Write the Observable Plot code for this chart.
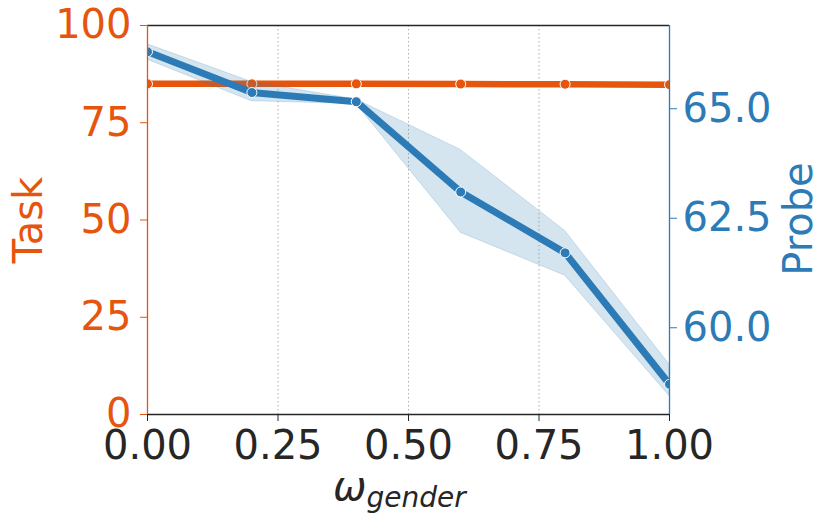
<!DOCTYPE html>
<html>
<head>
<meta charset="utf-8">
<script src="https://cdn.jsdelivr.net/npm/d3@7"></script>
<script src="https://cdn.jsdelivr.net/npm/@observablehq/plot@0.6"></script>
<style>
  html, body { margin: 0; padding: 0; background: #fff; }
  #chart { width: 830px; height: 524px; }
</style>
</head>
<body>
<div id="chart"></div>
<script>
// ---- data ----
const omega = [0.0, 0.2, 0.4, 0.6, 0.8, 1.0];
const taskValues = [85.0, 85.0, 85.0, 84.95, 84.9, 84.8];
const probeValues = [66.30, 65.37, 65.16, 63.10, 61.71, 58.71];
const probeLow = [66.12, 65.17, 65.11, 62.17, 61.19, 58.44];
const probeHigh = [66.47, 65.61, 65.21, 64.06, 62.21, 59.16];
const xTicks = [0, 0.25, 0.5, 0.75, 1.0];
const taskTicks = [0, 25, 50, 75, 100];
const probeTicks = [60.0, 62.5, 65.0];

const ORANGE = "#e6550d";
const BLUE = "#2c7bb6";
const DARK = "#262626";

// right axis domain mapped onto the left (task) scale
const P0 = 58.02, P1 = 66.9;
const pv = p => (p - P0) / (P1 - P0) * 100;
const pinv = v => v / 100 * (P1 - P0) + P0;

const taskData = omega.map((x, i) => ({x, y: taskValues[i]}));
const probeData = omega.map((x, i) => ({x, y: pv(probeValues[i]), lo: pv(probeLow[i]), hi: pv(probeHigh[i])}));

const chart = Plot.plot({
  width: 830,
  height: 524,
  marginTop: 25,
  marginBottom: 110,
  marginLeft: 147,
  marginRight: 161,
  style: {fontFamily: "DejaVu Sans", fontSize: "40px", background: "#fff"},
  x: {domain: [0, 1]},
  y: {domain: [0, 100]},
  marks: [
    Plot.ruleX([0.25, 0.5, 0.75], {stroke: "#b0b0b0", strokeWidth: 1, strokeDasharray: "1.5,2.5"}),
    Plot.lineY(taskData, {x: "x", y: "y", stroke: ORANGE, strokeWidth: 6.5, clip: true}),
    Plot.dot(taskData, {x: "x", y: "y", r: 5, fill: ORANGE, stroke: "#fff", strokeWidth: 1, clip: true}),
    Plot.areaY(probeData, {x: "x", y1: "lo", y2: "hi", fill: BLUE, fillOpacity: 0.2, stroke: BLUE, strokeOpacity: 0.2, strokeWidth: 1, clip: true}),
    Plot.lineY(probeData, {x: "x", y: "y", stroke: BLUE, strokeWidth: 7, clip: true}),
    Plot.dot(probeData, {x: "x", y: "y", r: 5, fill: BLUE, stroke: "#fff", strokeWidth: 1, clip: true}),
    Plot.ruleY([100], {stroke: DARK, strokeWidth: 1.3}),
    Plot.ruleY([0], {stroke: DARK, strokeWidth: 1.3}),
    Plot.ruleX([0], {stroke: ORANGE, strokeWidth: 1.3}),
    Plot.ruleX([1], {stroke: BLUE, strokeWidth: 1.3}),
    Plot.axisX({ticks: xTicks, tickFormat: d3.format(".2f"), tickSize: 7, tickPadding: 9, color: DARK, fontSize: 40, label: null}),
    Plot.axisY({ticks: taskTicks, tickSize: 7, tickPadding: 9, color: ORANGE, fontSize: 40, label: null}),
    Plot.axisY(probeTicks.map(pv), {anchor: "right", tickFormat: d => pinv(d).toFixed(1), tickSize: 7, tickPadding: 6, color: BLUE, fontSize: 40, label: null})
  ]
});

const svg = d3.select(chart);
svg.append("text")
  .attr("transform", "translate(42,220) rotate(-90)")
  .attr("text-anchor", "middle")
  .attr("font-size", 40)
  .attr("fill", ORANGE)
  .text("Task");
svg.append("text")
  .attr("transform", "translate(812,219) rotate(-90)")
  .attr("text-anchor", "middle")
  .attr("font-size", 40)
  .attr("fill", BLUE)
  .text("Probe");
const xl = svg.append("text")
  .attr("x", 333)
  .attr("y", 500)
  .attr("text-anchor", "start")
  .attr("fill", DARK)
  .attr("font-style", "italic");
xl.append("tspan").attr("font-size", 40).text("ω");
xl.append("tspan").attr("font-size", 28).attr("dy", 7).text("gender");

document.getElementById("chart").appendChild(chart);
</script>
</body>
</html>
